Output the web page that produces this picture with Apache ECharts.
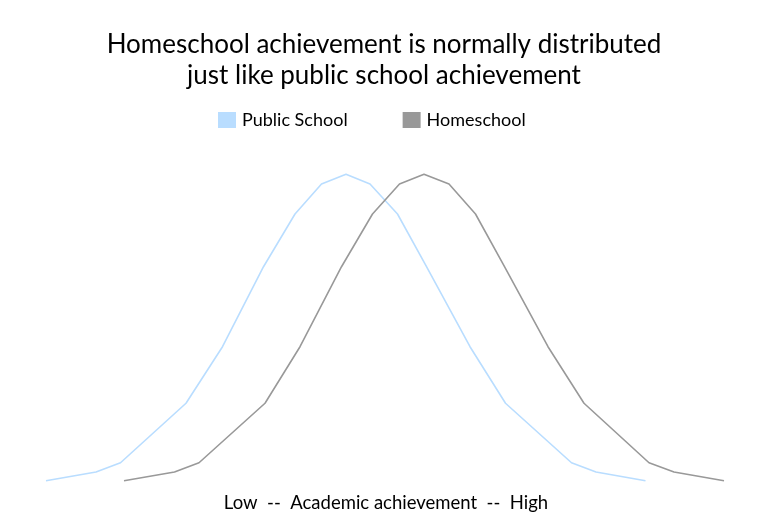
<!DOCTYPE html>
<html><head><meta charset="utf-8">
<script src="https://cdn.jsdelivr.net/npm/echarts@6/dist/echarts.min.js"></script>
<style>html,body{margin:0;padding:0;background:#fff}#c{width:768px;height:528px}</style>
</head><body><div id="c"></div>
<script>
const titleLines = ["Homeschool achievement is normally distributed", "just like public school achievement"];
const seriesNames = ["Public School", "Homeschool"];
const axisLabel = "Low  --  Academic achievement  --  High";
const publicX = [40, 50, 54.9, 68, 75.3, 83.5, 89.8, 95.1, 100, 104.8, 110.3, 116.1, 124.8, 131.9, 145.1, 150, 159.9];
const publicY = [1.16, 2.25, 3.41, 10.84, 17.91, 27.91, 34.5, 38.25, 39.46, 38.25, 34.5, 27.91, 17.91, 10.84, 3.41, 2.25, 1.16];
const homeX = [55.6, 65.7, 70.6, 83.8, 90.8, 99.1, 105.3, 110.7, 115.6, 120.6, 125.9, 131.7, 140.4, 147.6, 160.6, 165.6, 175.6];
const homeY = [1.16, 2.25, 3.41, 10.84, 17.91, 27.91, 34.5, 38.25, 39.46, 38.25, 34.5, 27.91, 17.91, 10.84, 3.41, 2.25, 1.16];

const FONT = 'Lato';
const chart = echarts.init(document.getElementById('c'), null, {renderer: 'canvas'});
chart.setOption({
  backgroundColor: '#fff',
  animation: false,
  title: {
    text: titleLines.join('\n'),
    left: 'center', top: 24,
    textStyle: {fontFamily: FONT, fontSize: 26, fontWeight: 'normal', color: '#000', lineHeight: 31}
  },
  legend: {
    top: 106, left: 213,
    icon: 'rect', itemWidth: 18, itemHeight: 16, itemGap: 55,
    textStyle: {fontFamily: FONT, fontSize: 18, color: '#000', padding: [0, 0, 0, 1]},
    data: seriesNames
  },
  grid: {left: 46, right: 42, top: 170, bottom: 38, containLabel: false},
  xAxis: {
    type: 'value', min: 40, max: 176,
    name: axisLabel, nameLocation: 'middle', nameGap: 4,
    nameTextStyle: {fontFamily: FONT, fontSize: 18.5, color: '#000'},
    axisLine: {show: false}, axisTick: {show: false}, axisLabel: {show: false}, splitLine: {show: false}
  },
  yAxis: {
    type: 'value', min: 0, max: 40, show: false
  },
  series: [
    {name: seriesNames[0], type: 'line', data: publicX.map((x, i) => [x, publicY[i]]),
     showSymbol: false, symbol: 'none', lineStyle: {color: '#b9ddff', width: 1.6}, itemStyle: {color: '#b9ddff'}},
    {name: seriesNames[1], type: 'line', data: homeX.map((x, i) => [x, homeY[i]]),
     showSymbol: false, symbol: 'none', lineStyle: {color: '#999999', width: 1.6}, itemStyle: {color: '#999999'}}
  ]
});
</script></body></html>
